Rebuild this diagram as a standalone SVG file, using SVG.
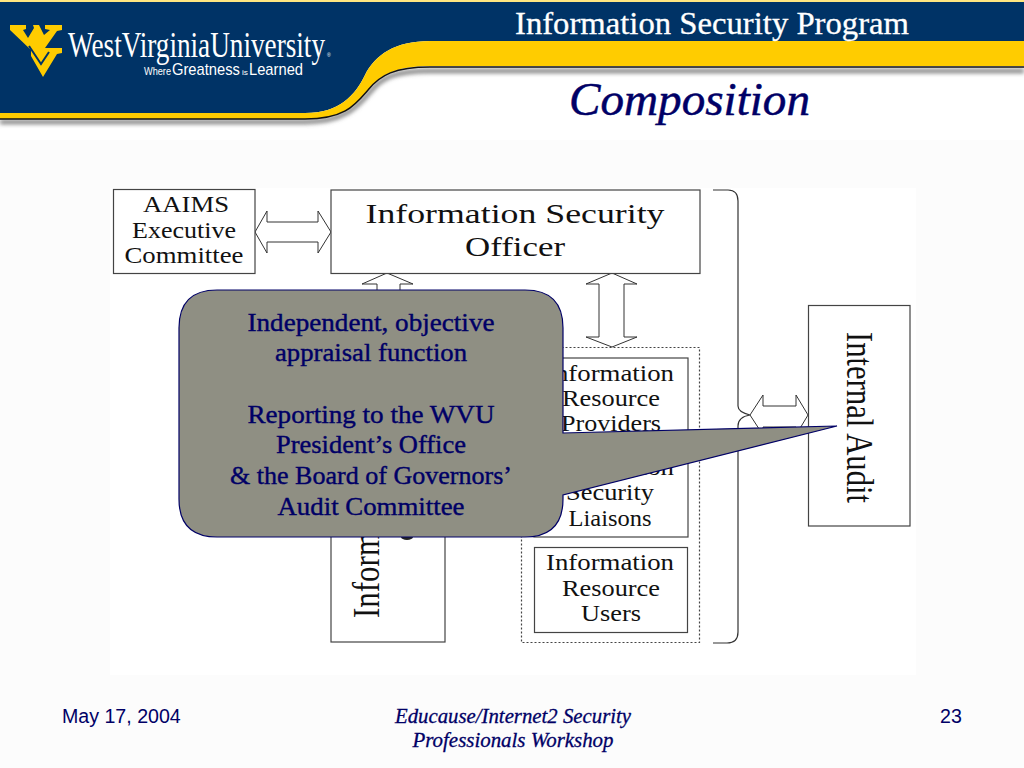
<svg xmlns="http://www.w3.org/2000/svg" width="1024" height="768" viewBox="0 0 1024 768">
<defs>
<style>
.s{font-family:"Liberation Serif","Times New Roman",serif}
.l{font-family:"Liberation Sans",Arial,sans-serif;fill:#fff}
.d{font-family:"Liberation Serif",serif;fill:#111;text-anchor:middle}
.b{fill:#fff;stroke:#444;stroke-width:1.2}
.a{fill:#fff;stroke:#333;stroke-width:1}
.c{font-family:"Liberation Serif",serif;font-size:26px;fill:#000066;stroke:#000066;stroke-width:.4;text-anchor:middle}
.f{font-family:"Liberation Sans",Arial,sans-serif;font-size:19.600px;fill:#000066}
.g{font-family:"Liberation Serif",serif;font-style:italic;font-size:21px;fill:#000066;stroke:#000066;stroke-width:.3;text-anchor:middle}
</style>
<filter id="bl" x="-5%" y="-20%" width="110%" height="140%"><feGaussianBlur stdDeviation="2"/></filter>
</defs>
<rect width="1024" height="768" fill="#fff"/>
<rect y="140" width="1024" height="628" fill="#fcfcfc"/>
<rect x="110" y="188" width="806" height="487" fill="#fff"/>
<g id="header">
<path d="M0 122H305C345 122 358 106 370 92C382 77 395 71 430 71H1024" fill="none" stroke="#777" stroke-width="4" filter="url(#bl)"/>
<path d="M0 2H1024V41H430C395 41 375 55 365 75C355 95 340 113 305 113H0Z" fill="#003366"/>
<rect width="1024" height="2" fill="#ffe680"/>
<path d="M0 113H305C340 113 355 95 365 75C375 55 395 41 430 41H1024V66H430C395 66 380 75 368 90C355 105 345 119 305 119H0Z" fill="#ffcc00"/>
<path d="M0 119H305C345 119 355 105 368 90C380 75 395 67 430 67H1024" fill="none" stroke="#111" stroke-width="1.5"/>
<path id="wv" d="M10 25H26V29L23 30L28 38L34 28L33 25H39L44 35L50 30L45 29V25H62V30L57 31L45 48H62V53L57 54L43 77L31 56V50L10 30Z" fill="#ffcc00"/>
<path d="M29 46L41 64L49 52" fill="none" stroke="#003366" stroke-width="2"/>
<text x="68" y="57" class="s" font-size="35" fill="#fff" textLength="257" lengthAdjust="spacingAndGlyphs">WestVirginiaUniversity</text>
<text x="327" y="57" class="l" font-size="5">®</text>
<text x="144" y="75" class="l" font-size="10" textLength="27" lengthAdjust="spacingAndGlyphs">Where</text>
<text x="172" y="75" class="l" font-size="17" textLength="68" lengthAdjust="spacingAndGlyphs">Greatness</text>
<text x="242" y="75" class="l" font-size="8" textLength="6" lengthAdjust="spacingAndGlyphs">is</text>
<text x="249" y="75" class="l" font-size="17" textLength="54" lengthAdjust="spacingAndGlyphs">Learned</text>
<text x="515" y="34" class="s" font-size="32" fill="#fff" stroke="#fff" stroke-width=".3" textLength="394" lengthAdjust="spacingAndGlyphs">Information Security Program</text>
<text x="569" y="115" class="s" font-size="47" font-style="italic" fill="#000066" stroke="#000066" stroke-width=".5" textLength="241" lengthAdjust="spacingAndGlyphs">Composition</text>
</g>
<g id="connectors">
<path class="a" d="M255 232L267 211V222H318V211L331 232L318 253V242H267V253Z"/>
<path class="a" d="M387 273L413 284H400V300H377V284H362Z"/>
<path class="a" d="M612 273L637 284H624V337H637L612 347L586 337H599V284H586Z"/>
<path class="a" d="M750 415L763 395V406H796V395L808 415L796 435V427H763V435Z"/>
<path id="bracket" d="M713 190H728Q738 190 738 201V406Q738 412 750 415Q738 417 738 426V632Q738 643 727 643H713" fill="none" stroke="#333" stroke-width="1.2"/>
</g>
<g id="aaims"><rect class="b" x="113.500" y="189.500" width="141.500" height="84"/>
<text class="d" x="186" y="212" font-size="23" textLength="86" lengthAdjust="spacingAndGlyphs">AAIMS</text>
<text class="d" x="184" y="238" font-size="23" textLength="104" lengthAdjust="spacingAndGlyphs">Executive</text>
<text class="d" x="184" y="263" font-size="23" textLength="119" lengthAdjust="spacingAndGlyphs">Committee</text></g>
<g id="iso"><rect class="b" x="331" y="190" width="369" height="83.500"/>
<text class="d" x="515" y="223" font-size="28" textLength="299" lengthAdjust="spacingAndGlyphs">Information Security</text>
<text class="d" x="515" y="256" font-size="28" textLength="100" lengthAdjust="spacingAndGlyphs">Officer</text></g>
<g id="info-vertical"><rect class="b" x="331" y="480" width="114" height="162"/>
<text class="d" transform="translate(379 618) rotate(-90)" font-size="37" style="text-anchor:start" textLength="86" lengthAdjust="spacingAndGlyphs">Inform</text>
<ellipse cx="407" cy="537" rx="6" ry="3" fill="#222"/></g>
<g id="group-dotted"><rect x="521.500" y="347.500" width="178" height="295" fill="none" stroke="#444" stroke-width="1.200" stroke-dasharray="2 2"/></g>
<g id="providers"><rect class="b" x="534" y="358" width="154" height="90"/>
<text class="d" x="610" y="381" font-size="22.500" textLength="128" lengthAdjust="spacingAndGlyphs">Information</text>
<text class="d" x="611" y="406" font-size="22.500" textLength="98" lengthAdjust="spacingAndGlyphs">Resource</text>
<text class="d" x="611" y="431" font-size="22.500" textLength="100" lengthAdjust="spacingAndGlyphs">Providers</text></g>
<g id="liaisons"><rect class="b" x="534" y="452" width="154" height="85"/>
<text class="d" x="610" y="475" font-size="22.500" textLength="128" lengthAdjust="spacingAndGlyphs">Information</text>
<text class="d" x="610" y="500" font-size="22.500" textLength="88" lengthAdjust="spacingAndGlyphs">Security</text>
<text class="d" x="610" y="526" font-size="22.500" textLength="83" lengthAdjust="spacingAndGlyphs">Liaisons</text></g>
<g id="users"><rect class="b" x="534.500" y="547.500" width="153" height="85"/>
<text class="d" x="610" y="570" font-size="22.500" textLength="128" lengthAdjust="spacingAndGlyphs">Information</text>
<text class="d" x="611" y="596" font-size="22.500" textLength="98" lengthAdjust="spacingAndGlyphs">Resource</text>
<text class="d" x="611" y="621" font-size="22.500" textLength="60" lengthAdjust="spacingAndGlyphs">Users</text></g>
<g id="audit"><rect class="b" x="808.500" y="305.500" width="101.500" height="220.500"/>
<text class="d" transform="translate(847 332) rotate(90)" font-size="37" style="text-anchor:start" textLength="171" lengthAdjust="spacingAndGlyphs">Internal Audit</text></g>
<g id="callout">
<path d="M217 290H525Q563 290 563 328V433L837 426L563 495V499Q563 537 525 537H217Q179 537 179 499V328Q179 290 217 290Z" fill="#8f8f83" stroke="#000066" stroke-width="1.200"/>
<text class="c" x="371" y="331" textLength="247" lengthAdjust="spacingAndGlyphs">Independent, objective</text>
<text class="c" x="371" y="361" textLength="192" lengthAdjust="spacingAndGlyphs">appraisal function</text>
<text class="c" x="371" y="423" textLength="247" lengthAdjust="spacingAndGlyphs">Reporting to the WVU</text>
<text class="c" x="371" y="453" textLength="190" lengthAdjust="spacingAndGlyphs">President’s Office</text>
<text class="c" x="371" y="484" textLength="282" lengthAdjust="spacingAndGlyphs">&amp; the Board of Governors’</text>
<text class="c" x="371" y="515" textLength="187" lengthAdjust="spacingAndGlyphs">Audit Committee</text>
</g>
<g id="footer">
<text class="f" x="62" y="723">May 17, 2004</text>
<text class="g" x="513" y="723" textLength="236" lengthAdjust="spacingAndGlyphs">Educause/Internet2 Security</text>
<text class="g" x="513" y="747" textLength="201" lengthAdjust="spacingAndGlyphs">Professionals Workshop</text>
<text class="f" x="940" y="723">23</text>
</g>
</svg>
